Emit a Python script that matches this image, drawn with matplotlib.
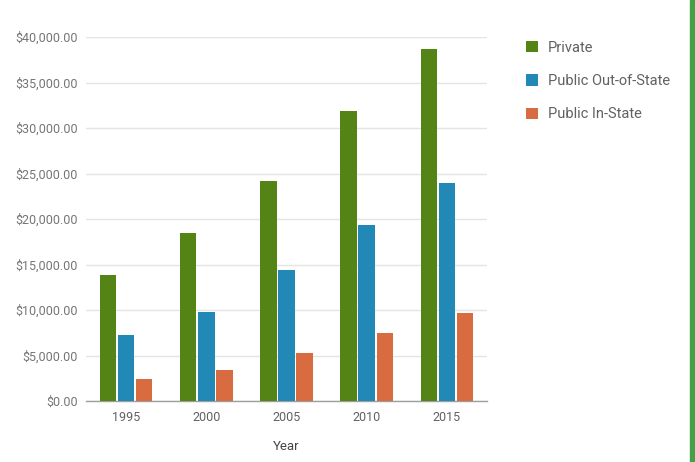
import matplotlib
matplotlib.use("Agg")
import matplotlib.pyplot as plt
import numpy as np
from matplotlib.patches import Rectangle
from matplotlib.ticker import FuncFormatter

years = ["1995", "2000", "2005", "2010", "2015"]
series_names = ["Private", "Public Out-of-State", "Public In-State"]
private = [13800, 18460, 24200, 31870, 38650]
public_out = [7250, 9750, 14360, 19300, 23920]
public_in = [2420, 3400, 5270, 7500, 9700]
colors = ["#548416", "#2288b6", "#d86c40"]

plt.rcParams['font.family'] = ['Roboto', 'DejaVu Sans']

fig = plt.figure(figsize=(6.95, 4.62), dpi=100)
ax = fig.add_axes([86/695, 1-401/462, (487-86)/695, (401-37)/462])

x = np.arange(len(years))
w = 0.205
gap = 0.02
data = [private, public_out, public_in]
handles = []
for i, (vals, c, name) in enumerate(zip(data, colors, series_names)):
    b = ax.bar(x + (i-1)*(w+gap), vals, width=w, color=c, label=name, zorder=3,
               linewidth=0)
    handles.append(b)

ax.set_xlim(-0.5, len(years)-0.5)
ax.set_ylim(0, 40000)
ax.set_yticks(np.arange(0, 40001, 5000))
ax.yaxis.set_major_formatter(FuncFormatter(lambda v, p: "${:,.2f}".format(v)))
ax.set_xticks(x)
ax.set_xticklabels(years)
ax.grid(axis='y', color='#e4e4e4', linewidth=1, zorder=0)
ax.set_axisbelow(True)
for s in ['top', 'right', 'left']:
    ax.spines[s].set_visible(False)
ax.spines['bottom'].set_color('#9e9e9e')
ax.spines['bottom'].set_linewidth(1)
ax.tick_params(axis='y', length=0, pad=6, labelsize=9, labelcolor='#757575')
ax.tick_params(axis='x', length=0, pad=7, labelsize=9, labelcolor='#616161')
ax.set_xlabel("Year", fontsize=9.5, color='#444444', labelpad=12)

leg = fig.legend(handles=handles, labels=series_names, loc='upper left',
                 bbox_to_anchor=(520/695, 1-35/462), frameon=False,
                 fontsize=10.5, labelcolor='#616161', handlelength=0.8,
                 handleheight=0.8, handletextpad=0.7, labelspacing=1.32,
                 borderaxespad=0)

fig.patches.append(Rectangle((690/695, 0), 5/695, 1, transform=fig.transFigure,
                             color='#43a047', zorder=10))

fig.savefig("out.png", dpi=100)
